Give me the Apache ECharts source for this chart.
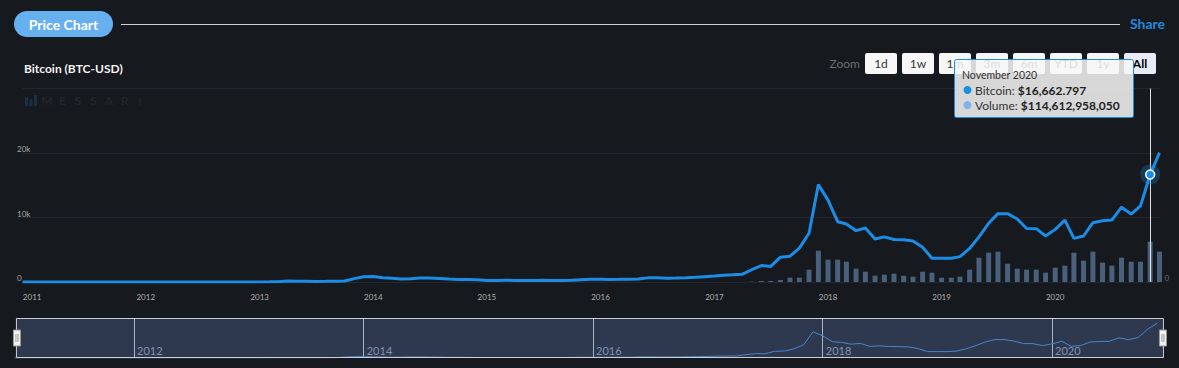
<!DOCTYPE html>
<html>
<head>
<meta charset="utf-8">
<script src="https://cdn.jsdelivr.net/npm/echarts@6/dist/echarts.min.js"></script>
<style>
html,body{margin:0;padding:0;background:#16191d;}
#c{width:1179px;height:368px;}
</style>
</head>
<body>
<div id="c"></div>
<script>
// ---- DATA ----
// Monthly average BTC price (USD), Dec 2010 .. Dec 2020
const priceStart = {year: 2010, month: 11};
const priceUSD = [
  0.25,
  0.4, 0.9, 0.85, 1.2, 5, 17, 14, 10, 5.5, 3.5, 2.5, 3.5,
  6, 5.5, 4.9, 5, 5.1, 5.9, 8, 10.7, 11.5, 11.2, 11.1, 13.3,
  15, 25, 55, 140, 115, 108, 85, 105, 128, 155, 520, 800,
  850, 660, 580, 460, 490, 620, 620, 540, 450, 370, 370, 340,
  250, 235, 270, 235, 237, 237, 280, 250, 235, 265, 350, 420,
  410, 400, 415, 435, 460, 640, 660, 575, 605, 640, 730, 830,
  914, 1060, 1130, 1210, 1900, 2550, 2420, 3850, 4000, 5250, 7550, 15100,
  12700, 9350, 9000, 7960, 8370, 6670, 7000, 6600, 6560, 6360, 5400, 3670,
  3670, 3670, 3930, 5200, 7000, 9100, 10600, 10600, 9770, 8300, 8270, 7130,
  8160, 9600, 6770, 7130, 9200, 9500, 9600, 11600, 10540, 11800, 16662.797, 20050
];
// Monthly volume (billions USD), May 2017 .. Dec 2020
const volumeStart = {year: 2017, month: 4};
const volumeBillions = [
  0.9, 2.8, 2.8, 5.7, 12.2, 12.2, 35, 89,
  63.4, 63.4, 57.7, 37.8, 29.3, 17.9, 20.8, 23.6, 17.9, 15.1, 29.3, 26.4,
  12.2, 12.2, 15.1, 35, 69.1, 83.3, 86.2, 52, 37.8, 35, 35, 26.4,
  40.7, 46.4, 83.3, 60.6, 86.2, 54.9, 46.4, 69.1, 57.7, 57.7, 114.61295805, 86.2
];
const yearTicks = [2011, 2012, 2013, 2014, 2015, 2016, 2017, 2018, 2019, 2020];
const navYearTicks = [2012, 2014, 2016, 2018, 2020];
const zoomButtons = ['1d', '1w', '1m', '3m', '6m', 'YTD', '1y', 'All'];
const hoverMonth = {year: 2020, month: 10}; // November 2020
const monthNames = ['January','February','March','April','May','June','July','August','September','October','November','December'];

// ---- BUILD ----
const ts = (y, m) => Date.UTC(y, m, 1);
const priceData = priceUSD.map((v, i) => [ts(priceStart.year, priceStart.month + i), v]);
const volumeData = volumeBillions.map((v, i) => [ts(volumeStart.year, volumeStart.month + i), v * 1e9]);
const hoverTs = ts(hoverMonth.year, hoverMonth.month);
const hoverPrice = priceData.find(d => d[0] === hoverTs)[1];
const hoverVolume = Math.round(volumeData.find(d => d[0] === hoverTs)[1]);
const yearFmt = v => String(new Date(v).getUTCFullYear());

const FONT = 'Lato, "Open Sans", sans-serif';
const g = [];
// header
g.push({type: 'rect', shape: {x: 14, y: 11, width: 99, height: 26, r: 13}, style: {fill: '#66b0f0'}});
g.push({type: 'text', x: 63.5, y: 24, style: {text: 'Price Chart', fill: '#ffffff', font: 'bold 14px ' + FONT, align: 'center', verticalAlign: 'middle'}});
g.push({type: 'line', shape: {x1: 121, y1: 24.5, x2: 1120, y2: 24.5}, style: {stroke: '#cfcfcf', lineWidth: 1}});
g.push({type: 'text', x: 1165, y: 23.5, style: {text: 'Share', fill: '#2389dc', font: 'bold 14px ' + FONT, align: 'right', verticalAlign: 'middle'}});
g.push({type: 'text', x: 24, y: 68, style: {text: 'Bitcoin (BTC-USD)', fill: '#f2f2f2', font: 'bold 12px ' + FONT, verticalAlign: 'middle'}});
// logo
[[25, 97, 3, 9], [29.5, 99, 3, 7], [34, 95, 3, 11]].forEach(r => {
  g.push({type: 'rect', shape: {x: r[0], y: r[1], width: r[2], height: r[3]}, style: {fill: '#1a2e44'}});
});
'MESSARI'.split('').forEach((ch, i) => {
  g.push({type: 'text', x: 47 + i * 15.5, y: 100.5, style: {text: ch, fill: '#22262c', font: 'bold 12px ' + FONT, align: 'center', verticalAlign: 'middle'}});
});
// zoom buttons
g.push({type: 'text', x: 860, y: 63.5, style: {text: 'Zoom', fill: '#6e6e6e', font: '12px ' + FONT, align: 'right', verticalAlign: 'middle'}});
zoomButtons.forEach((b, i) => {
  const x = 865 + i * 37;
  const sel = b === 'All';
  g.push({type: 'rect', shape: {x: x, y: 53, width: 32, height: 21, r: 2}, style: {fill: sel ? '#e6ebf5' : '#f7f7f7'}});
  g.push({type: 'text', x: x + 16, y: 63.5, style: {text: b, fill: sel ? '#000' : '#333', font: (sel ? 'bold ' : '') + '12px ' + FONT, align: 'center', verticalAlign: 'middle'}});
});
// tooltip
g.push({type: 'rect', z: 100, shape: {x: 954.5, y: 59.5, width: 179, height: 58, r: 2}, style: {fill: 'rgba(247,247,247,0.86)', stroke: '#1b8de6', lineWidth: 1}});
g.push({type: 'text', z: 101, x: 962, y: 75, style: {text: monthNames[hoverMonth.month] + ' ' + hoverMonth.year, fill: '#333', font: '10.5px ' + FONT, verticalAlign: 'middle'}});
g.push({type: 'circle', z: 101, shape: {cx: 967.5, cy: 90, r: 4}, style: {fill: '#1b8de6'}});
g.push({type: 'circle', z: 101, shape: {cx: 967.5, cy: 105, r: 4}, style: {fill: '#7cb5ec'}});
const rich = {n: {fill: '#333', font: '12px ' + FONT}, v: {fill: '#222', font: 'bold 12px ' + FONT}};
g.push({type: 'text', z: 101, x: 975, y: 90, style: {text: '{n|Bitcoin: }{v|$' + hoverPrice.toLocaleString('en-US', {minimumFractionDigits: 3, maximumFractionDigits: 3}) + '}', rich: rich, verticalAlign: 'middle'}});
g.push({type: 'text', z: 101, x: 975, y: 105, style: {text: '{n|Volume: }{v|$' + hoverVolume.toLocaleString('en-US') + '}', rich: rich, verticalAlign: 'middle'}});

const handlePath = 'path://M0,0 L7,0 L7,16 L0,16 Z M2.5,4 L2.5,12 M4.5,4 L4.5,12';

const option = {
  backgroundColor: '#16191d',
  animation: false,
  textStyle: {fontFamily: FONT},
  grid: [
    {left: 22.5, right: 19.5, top: 88.5, height: 193.5},
    {left: 15, right: 16, top: 318, height: 40}
  ],
  xAxis: [
    {
      type: 'value', gridIndex: 0,
      min: priceData[0][0], max: priceData[priceData.length - 1][0],
      axisLine: {show: false}, axisTick: {show: false}, splitLine: {show: false},
      axisLabel: {
        customValues: yearTicks.map(y => ts(y, 0)),
        formatter: yearFmt, color: '#b0b0b0', fontSize: 8, margin: 11
      }
    },
    {
      type: 'value', gridIndex: 1,
      min: Date.UTC(2010, 11, 18), max: Date.UTC(2020, 11, 19),
      axisLine: {show: false}, splitLine: {show: false},
      axisTick: {show: true, inside: true, length: 40, customValues: navYearTicks.map(y => ts(y, 0)), lineStyle: {color: '#c8c8c8', width: 1}},
      axisLabel: {
        inside: true, customValues: navYearTicks.map(y => ts(y, 0)),
        formatter: yearFmt, color: '#8e97a8', fontSize: 11, align: 'left', verticalAlign: 'bottom', margin: 2, padding: [0, 0, 0, 3]
      }
    }
  ],
  yAxis: [
    {
      type: 'value', gridIndex: 0, min: 0, max: 30000, interval: 10000,
      axisLine: {show: false}, axisTick: {show: false},
      splitLine: {lineStyle: {color: '#23272d', width: 1}},
      axisLabel: {
        formatter: v => v === 0 ? '0' : (v >= 30000 ? '' : (v / 1000) + 'k'),
        color: '#a8a8a8', fontSize: 8, align: 'left', verticalAlign: 'bottom', margin: 5.5
      }
    },
    {
      type: 'value', gridIndex: 0, min: 0, max: 550e9, position: 'right',
      axisLine: {show: false}, axisTick: {show: false}, splitLine: {show: false},
      axisLabel: {formatter: v => v === 0 ? '0' : '', color: '#6a6a6a', fontSize: 8, margin: 5, verticalAlign: 'bottom'}
    },
    {type: 'value', gridIndex: 1, min: 0, max: 23000, show: false}
  ],
  dataZoom: [{
    type: 'slider', xAxisIndex: 0, filterMode: 'none', start: 0, end: 100,
    left: 15, right: 16, top: 318, height: 40,
    backgroundColor: 'rgba(0,0,0,0)', borderColor: '#cfcfcf',
    fillerColor: 'rgba(102,133,194,0.3)',
    showDataShadow: false, showDetail: false, brushSelect: false,
    moveHandleSize: 0,
    handleIcon: handlePath, handleSize: 16,
    handleStyle: {color: '#f2f2f2', borderColor: '#999', borderWidth: 1},
    dataBackground: {lineStyle: {opacity: 0}, areaStyle: {opacity: 0}}
  }],
  graphic: g,
  series: [
    {
      name: 'Volume', type: 'bar', xAxisIndex: 0, yAxisIndex: 1, data: volumeData,
      barWidth: 5, itemStyle: {color: '#4a617e'}, z: 2, silent: true,
      markLine: {
        silent: true, symbol: ['none', 'none'], label: {show: false},
        lineStyle: {color: '#e2e2e2', width: 1, type: 'solid'},
        data: [{xAxis: hoverTs}]
      }
    },
    {
      name: 'Bitcoin', type: 'line', xAxisIndex: 0, yAxisIndex: 0, data: priceData,
      showSymbol: false, lineStyle: {color: '#1b8de6', width: 3}, itemStyle: {color: '#1b8de6'}, z: 3, silent: true,
      markPoint: {
        silent: true, label: {show: false},
        data: [
          {coord: [hoverTs, hoverPrice], symbol: 'circle', symbolSize: 20, itemStyle: {color: 'rgba(27,141,230,0.28)'}},
          {coord: [hoverTs, hoverPrice], symbol: 'circle', symbolSize: 9, itemStyle: {color: '#1b8de6', borderColor: '#ffffff', borderWidth: 1.5}}
        ]
      }
    },
    {
      name: 'Navigator', type: 'line', xAxisIndex: 1, yAxisIndex: 2, data: priceData,
      showSymbol: false, lineStyle: {color: '#3f84cc', width: 1}, silent: true
    }
  ]
};
const chart = echarts.init(document.getElementById('c'), null, {renderer: 'svg'});
chart.setOption(option);
</script>
</body>
</html>
